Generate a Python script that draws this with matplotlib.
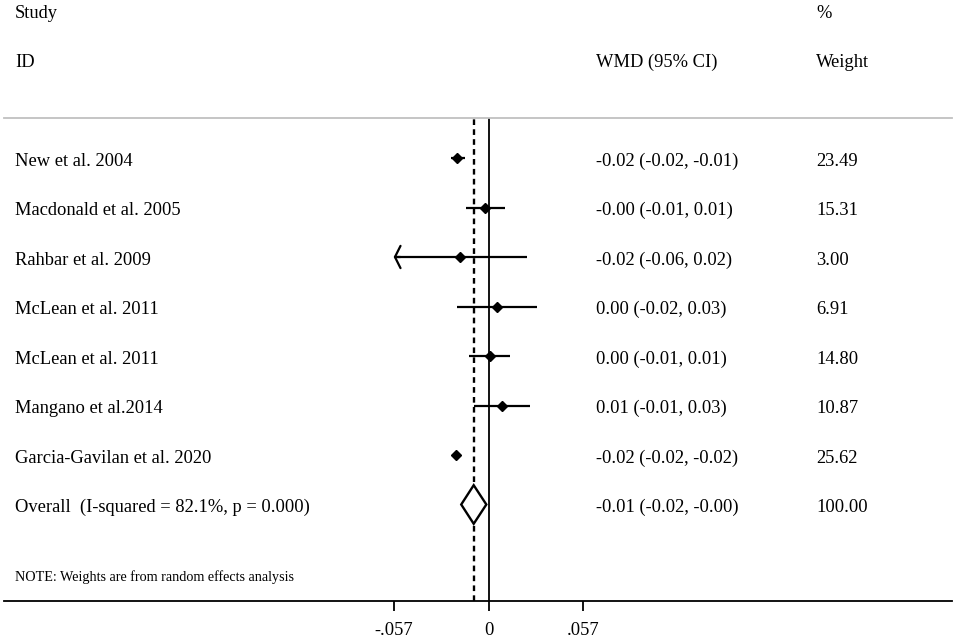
import matplotlib
matplotlib.use("Agg")
import matplotlib.pyplot as plt
import matplotlib.transforms as mtransforms

# ---- data ----
studies = ["New et al. 2004", "Macdonald et al. 2005", "Rahbar et al. 2009",
           "McLean et al. 2011", "McLean et al. 2011", "Mangano et al.2014",
           "Garcia-Gavilan et al. 2020"]
est = [-0.0189, -0.0019, -0.0170, 0.0051, 0.0011, 0.0083, -0.0195]
lo = [-0.0225, -0.0137, -0.0600, -0.0188, -0.0115, -0.0089, -0.0205]
hi = [-0.0140, 0.0101, 0.0230, 0.0292, 0.0129, 0.0250, -0.0185]
ci_text = ["-0.02 (-0.02, -0.01)", "-0.00 (-0.01, 0.01)", "-0.02 (-0.06, 0.02)",
           "0.00 (-0.02, 0.03)", "0.00 (-0.01, 0.01)", "0.01 (-0.01, 0.03)",
           "-0.02 (-0.02, -0.02)"]
weights = ["23.49", "15.31", "3.00", "6.91", "14.80", "10.87", "25.62"]
overall_label = "Overall  (I-squared = 82.1%, p = 0.000)"
overall_est = -0.0089
overall_lo = -0.0164
overall_hi = -0.0013
overall_ci_text = "-0.01 (-0.02, -0.00)"
overall_weight = "100.00"
xticks = [-0.057, 0.0, 0.057]
xticklabels = ["-.057", "0", ".057"]
note = "NOTE: Weights are from random effects analysis"

plt.rcParams['font.family'] = ['Liberation Serif', 'DejaVu Serif']

W, H = 957, 641
fig = plt.figure(figsize=(W / 100, H / 100), dpi=100)
ax_left, ax_right, ax_top, ax_bot = 4, 952, 118, 601
ax = fig.add_axes([ax_left / W, 1 - ax_bot / H, (ax_right - ax_left) / W, (ax_bot - ax_top) / H])

zero_px, scale = 488.5, 1663.0
ax.set_xlim((ax_left - zero_px) / scale, (ax_right - zero_px) / scale)
row0, rowh = 158.0, 49.5
ax.set_ylim((ax_bot - row0) / rowh, (ax_top - row0) / rowh)

xmin_clip = xticks[0]
n = len(studies)
for i in range(n):
    l = max(lo[i], xmin_clip)
    ax.plot([l, hi[i]], [i, i], color='black', lw=1.6, solid_capstyle='butt', zorder=3)
    if lo[i] < xmin_clip:
        ax.annotate("", xy=(xmin_clip, i), xytext=(xmin_clip + 0.004, i),
                    arrowprops=dict(arrowstyle="->,head_length=0.4,head_width=0.8",
                                    color='black', lw=1.6, shrinkA=0, shrinkB=0),
                    zorder=3)
    ax.plot(est[i], i, marker='D', color='black', markersize=5.5, zorder=4)

# overall diamond
yo = n
hh = 0.39
ax.fill([overall_lo, overall_est, overall_hi, overall_est],
        [yo, yo - hh, yo, yo + hh], facecolor='white', edgecolor='black', lw=1.7, zorder=4)

# reference lines
ax.axvline(0, color='black', lw=1.3, zorder=2)
ax.axvline(overall_est, color='black', lw=1.7, ls=(0, (2.4, 1.8)), zorder=2)

# spines
for s in ['left', 'right']:
    ax.spines[s].set_visible(False)
ax.spines['top'].set_color('#c0c0c0')
ax.spines['top'].set_linewidth(1.3)
ax.spines['bottom'].set_linewidth(1.3)
ax.set_yticks([])
ax.set_xticks(xticks)
ax.set_xticklabels(xticklabels)
ax.tick_params(axis='x', direction='out', length=7.5, width=1.3, pad=7.5, labelsize=13.3)

# texts
fs = 13.3
x_lab, x_ci, x_w = 15 / W, 596 / W, 816 / W
off = 7.7 / rowh
blend = mtransforms.blended_transform_factory(fig.transFigure, ax.transData)
for i in range(n):
    ax.text(x_lab, i + off, studies[i], transform=blend, fontsize=fs, va='baseline')
    ax.text(x_ci, i + off, ci_text[i], transform=blend, fontsize=fs, va='baseline')
    ax.text(x_w, i + off, weights[i], transform=blend, fontsize=fs, va='baseline')
ax.text(x_lab, n + off, overall_label, transform=blend, fontsize=fs, va='baseline')
ax.text(x_ci, n + off, overall_ci_text, transform=blend, fontsize=fs, va='baseline')
ax.text(x_w, n + off, overall_weight, transform=blend, fontsize=fs, va='baseline')

fig.text(x_lab, 1 - 17.7 / H, "Study", fontsize=fs, va='baseline')
fig.text(x_lab, 1 - 66.7 / H, "ID", fontsize=fs, va='baseline')
fig.text(x_ci, 1 - 66.7 / H, "WMD (95% CI)", fontsize=fs, va='baseline')
fig.text(x_w, 1 - 17.7 / H, "%", fontsize=fs, va='baseline')
fig.text(x_w, 1 - 66.7 / H, "Weight", fontsize=fs, va='baseline')
fig.text(x_lab, 1 - 581.5 / H, note, fontsize=10.2, va='baseline')

fig.savefig("out.png", dpi=100)
